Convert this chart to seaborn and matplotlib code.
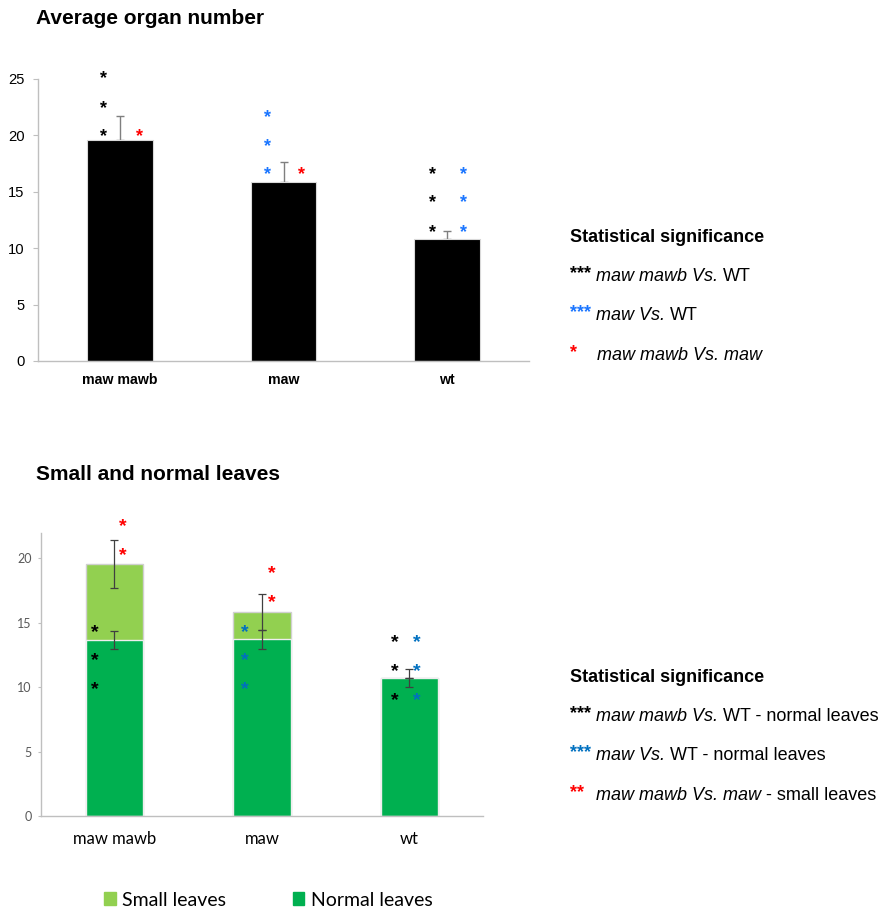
import matplotlib
matplotlib.use("Agg")
import matplotlib.pyplot as plt
import matplotlib.transforms as mtransforms
from matplotlib.patches import Patch
from matplotlib import font_manager
import seaborn as sns

# ---- data ----
genotypes = ["maw mawb", "maw", "wt"]

organ_mean = [19.6, 15.87, 10.8]
organ_err = [2.1, 1.75, 0.7]

normal_leaves = [13.66, 13.74, 10.69]
small_leaves = [5.9, 2.1, 0.0]
normal_err = [0.67, 0.74, 0.71]
small_err = [1.85, 1.4, 0.0]

# significance stars (category index, offset, y, colour key)
top_stars = [
    (0, -0.10, [20.1, 22.6, 25.2], "k"),
    (0, 0.12, [20.1], "r"),
    (1, -0.095, [16.7, 19.2, 21.8], "b"),
    (1, 0.11, [16.7], "r"),
    (2, -0.09, [11.6, 14.2, 16.7], "k"),
    (2, 0.10, [11.6, 14.2, 16.7], "b"),
]
bottom_stars = [
    (0, -0.13, [10.0, 12.26, 14.44], "k"),
    (0, 0.055, [20.46, 22.7], "r"),
    (1, -0.115, [10.0, 12.26, 14.44], "b"),
    (1, 0.07, [16.77, 19.0], "r"),
    (2, -0.10, [9.2, 11.45, 13.7], "k"),
    (2, 0.05, [9.2, 11.45, 13.7], "b"),
]

# ---- style ----
sns.set_style("white")


def have_font(name):
    try:
        font_manager.findfont(name, fallback_to_default=False)
        return True
    except Exception:
        return False


narrow = "Liberation Sans Narrow" if have_font("Liberation Sans Narrow") else "Liberation Sans"
narrow_scale = 1.0 if narrow.endswith("Narrow") else 0.85
arial = "Liberation Sans"
calibri = "Lato"
plt.rcParams["font.family"] = [arial, "DejaVu Sans"]
plt.rcParams["text.color"] = "black"
plt.rcParams["xtick.labelcolor"] = "black"
plt.rcParams["ytick.labelcolor"] = "black"

light_green = "#92d050"
dark_green = "#00b050"
top_colors = {"k": "black", "r": "#ff0000", "b": "#1a75ff"}
bot_colors = {"k": "black", "r": "#ff0000", "b": "#0070c0"}
axis_grey = "#bfbfbf"

W, H = 880, 910
fig = plt.figure(figsize=(W / 100, H / 100), dpi=100)


def px_axes(left, right, top, bottom):
    return fig.add_axes([left / W, 1 - bottom / H, (right - left) / W, (bottom - top) / H])


def style_axis(ax, tick_len, minor_len):
    sns.despine(ax=ax)
    for s in ["left", "bottom"]:
        ax.spines[s].set_color(axis_grey)
        ax.spines[s].set_linewidth(1.0)
    ax.set_xlim(-0.5, 2.5)
    ax.set_xticks([-0.5, 0.5, 1.5, 2.5], minor=True)
    ax.tick_params(axis="x", which="major", length=0)
    ax.tick_params(axis="x", which="minor", length=minor_len, color=axis_grey, direction="out")
    ax.tick_params(axis="y", length=tick_len, color=axis_grey, direction="out", left=True)
    ax.set_xlabel("")
    ax.set_ylabel("")


def draw_stars(ax, stars, colors, fs, family):
    for cat, off, ys, ck in stars:
        for y in ys:
            tr = mtransforms.offset_copy(ax.transData, fig=fig, y=-0.37 * fs, units="points")
            ax.text(cat + off, y, "*", transform=tr, ha="center", va="baseline",
                    fontsize=fs, fontweight="bold", color=colors[ck],
                    family=family, clip_on=False)


# ---- top chart ----
ax1 = px_axes(38, 529, 79, 361)
sns.barplot(x=genotypes, y=organ_mean, color="black", width=0.4, saturation=1,
            edgecolor="#d9d9d9", linewidth=0.8, ax=ax1)
ax1.errorbar(range(len(genotypes)), organ_mean,
             yerr=[[0] * len(organ_err), organ_err], fmt="none",
             ecolor="#7f7f7f", elinewidth=1.0, capsize=3, capthick=1.0, zorder=0.5)
ax1.set_ylim(0, 25)
ax1.set_yticks([0, 5, 10, 15, 20, 25])
style_axis(ax1, 3.6, 3)
ax1.tick_params(axis="y", pad=6)
ax1.tick_params(axis="x", pad=9)
for lab in ax1.get_yticklabels():
    lab.set_family(narrow)
    lab.set_fontsize(12.5 * narrow_scale)
for lab in ax1.get_xticklabels():
    lab.set_family(narrow)
    lab.set_fontweight("bold")
    lab.set_fontsize(12 * narrow_scale)
draw_stars(ax1, top_stars, top_colors, 13, arial)

fig.text(36 / W, 1 - 19 / H, "Average organ number", fontsize=15, fontweight="bold",
         family=arial, va="center", ha="left")

# ---- bottom chart ----
ax2 = px_axes(40.7, 483, 532.7, 816)
totals = [n + s for n, s in zip(normal_leaves, small_leaves)]
sns.barplot(x=genotypes, y=totals, color=light_green, width=0.39, saturation=1,
            edgecolor="#d0d0d0", linewidth=1.0, ax=ax2)
sns.barplot(x=genotypes, y=normal_leaves, color=dark_green, width=0.39, saturation=1,
            edgecolor="#eeeeee", linewidth=1.0, ax=ax2)
ax2.errorbar(range(len(genotypes)), totals, yerr=small_err, fmt="none",
             ecolor="#404040", elinewidth=0.9, capsize=3, capthick=0.9)
ax2.errorbar(range(len(genotypes)), normal_leaves, yerr=normal_err, fmt="none",
             ecolor="#404040", elinewidth=0.9, capsize=3, capthick=0.9)
ax2.set_ylim(0, 22)
ax2.set_yticks([0, 5, 10, 15, 20])
style_axis(ax2, 2.5, 4)
ax2.tick_params(axis="y", pad=4, labelsize=9, labelcolor="#595959")
ax2.tick_params(axis="x", pad=11, labelsize=12)
for lab in ax2.get_yticklabels() + ax2.get_xticklabels():
    lab.set_family(calibri)
draw_stars(ax2, bottom_stars, bot_colors, 14, arial)

fig.text(36 / W, 1 - 474 / H, "Small and normal leaves", fontsize=15, fontweight="bold",
         family=arial, va="center", ha="left")

fig.legend(handles=[Patch(color=light_green), Patch(color=dark_green)],
           labels=["Small leaves", "Normal leaves"], loc="center left",
           bbox_to_anchor=(104 / W, 1 - 900 / H), ncol=2, frameon=False,
           prop={"family": calibri, "size": 14}, handlelength=0.6, handleheight=0.6,
           handletextpad=0.35, columnspacing=3.4, borderpad=0, borderaxespad=0)

# ---- significance keys ----
renderer = fig.canvas.get_renderer()


def put_parts(x_px, y_px, parts, fs=13):
    x = x_px
    for txt, color, style in parts:
        t = fig.text(x / W, 1 - y_px / H, txt, color=color, fontsize=fs,
                     style=style, family=arial, va="center", ha="left")
        bb = t.get_window_extent(renderer)
        x = bb.x1 + fs * 0.28 * 100 / 72


def sig_block(y0, lines):
    fig.text(570 / W, 1 - y0 / H, "Statistical significance", fontsize=13,
             fontweight="bold", family=arial, va="center", ha="left")
    for i, (stars, col, body) in enumerate(lines):
        y = y0 + 39.5 * (i + 1)
        fig.text(570 / W, 1 - (y - 3) / H, stars, color=col, fontsize=13,
                 fontweight="bold", family=arial, va="center", ha="left")
        put_parts(596 if len(stars) > 1 or i < 2 else 597, y, body)


sig_block(237, [
    ("***", "black", [("maw mawb Vs.", "black", "italic"), ("WT", "black", "normal")]),
    ("***", top_colors["b"], [("maw Vs.", "black", "italic"), ("WT", "black", "normal")]),
    ("*", "#ff0000", [("maw mawb Vs. maw", "black", "italic")]),
])
sig_block(677, [
    ("***", "black", [("maw mawb Vs.", "black", "italic"), ("WT - normal leaves", "black", "normal")]),
    ("***", bot_colors["b"], [("maw Vs.", "black", "italic"), ("WT - normal leaves", "black", "normal")]),
    ("**", "#ff0000", [("maw mawb Vs. maw", "black", "italic"), ("- small leaves", "black", "normal")]),
])

fig.savefig("out.png", dpi=100)
